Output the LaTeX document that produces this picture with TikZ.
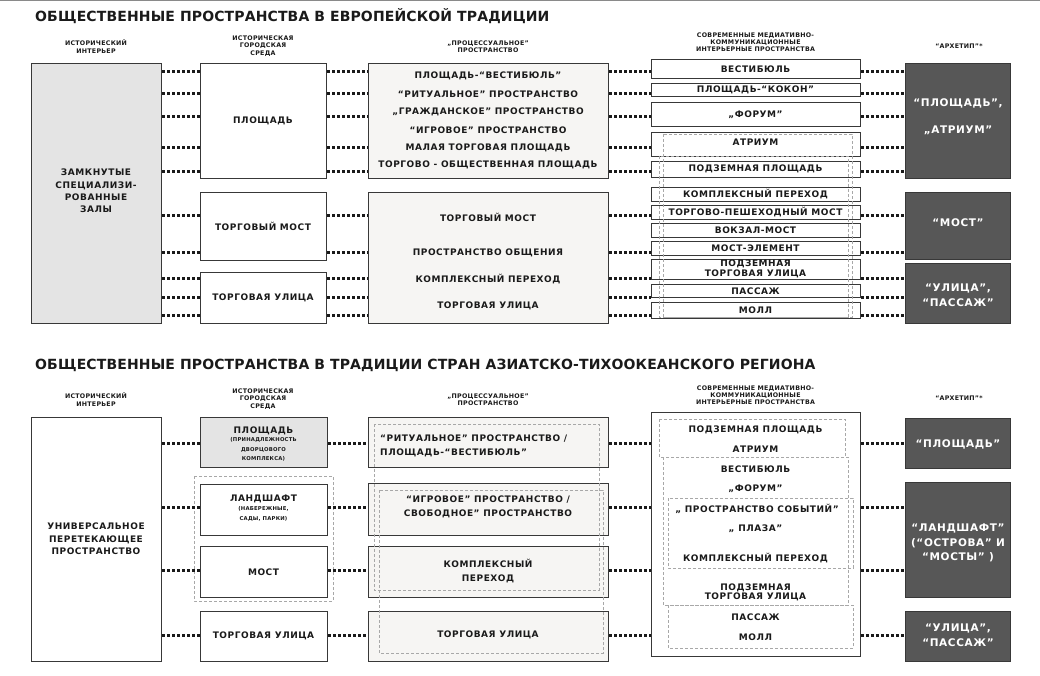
\documentclass[tikz,border=0pt]{standalone}
\usepackage{fontspec}
\setmainfont{DejaVu Sans}
\newfontfamily\dvbox[LetterSpace=6]{DejaVu Sans}
\newfontfamily\dvttl[LetterSpace=1]{DejaVu Sans}
\newfontfamily\dvhdr[LetterSpace=4]{DejaVu Sans}
\definecolor{gfill}{HTML}{E4E4E4}
\definecolor{pfill}{HTML}{F6F5F3}
\definecolor{dfill}{HTML}{575757}
\definecolor{dline}{HTML}{A8A8A8}
\definecolor{bline}{HTML}{383838}
\definecolor{topgray}{HTML}{8A8A8A}
\definecolor{ink}{HTML}{1A1A1A}
\tikzset{
  frame/.style={draw=bline, line width=1.3pt, rectangle, inner sep=0pt, anchor=north west, fill=white},
  darkbox/.style={frame, fill=dfill},
  dotline/.style={line width=3pt, dash pattern=on 3pt off 2pt, ink},
  dbox/.style={draw=dline, line width=0.9pt, dash pattern=on 3pt off 2pt},
  lbl/.style={font=\dvbox\bfseries\fontsize{9}{12.3}\selectfont, text=ink, align=center, inner sep=0pt},
  lblw/.style={lbl, font=\dvbox\bfseries\fontsize{9}{14}\selectfont},
  lblt/.style={lbl, font=\dvbox\bfseries\fontsize{9}{9.5}\selectfont},
  sub/.style={lbl, font=\dvhdr\bfseries\fontsize{5.3}{9.3}\selectfont},
  hdr/.style={lbl, font=\dvhdr\bfseries\fontsize{6.3}{7.2}\selectfont},
  arch/.style={lbl, text=white, font=\dvbox\bfseries\fontsize{10.5}{14.5}\selectfont},
  ttl/.style={lbl, anchor=west, font=\dvttl\bfseries\fontsize{14}{16}\selectfont},
}
\newcommand\mkbox[6][]{\node[frame,#1,minimum width={#5pt-#3pt},minimum height={#6pt-#4pt}] (#2) at (#3,#4) {};}
\newcommand\mytext[4][]{\node[lbl,#1] (#2) at (#3) {#4};}
\begin{document}
\begin{tikzpicture}[x=1pt,y=-1pt]
\useasboundingbox (0,0) rectangle (1040,676);
\fill[topgray] (0,0) rectangle (1040,1.5);

% ---------------- titles ----------------
\node[ttl] (T1) at (35,16) {ОБЩЕСТВЕННЫЕ ПРОСТРАНСТВА В ЕВРОПЕЙСКОЙ ТРАДИЦИИ};
\node[ttl] (T2) at (35,365) {ОБЩЕСТВЕННЫЕ ПРОСТРАНСТВА В ТРАДИЦИИ СТРАН АЗИАТСКО-ТИХООКЕАНСКОГО РЕГИОНА};

% ---------------- headers ----------------
\mytext[hdr]{h1}{96,46.5}{ИСТОРИЧЕСКИЙ\\ИНТЕРЬЕР}
\mytext[hdr]{h2}{263,46}{ИСТОРИЧЕСКАЯ\\ГОРОДСКАЯ\\СРЕДА}
\mytext[hdr]{h3}{488,46.5}{„ПРОЦЕССУАЛЬНОЕ”\\ПРОСТРАНСТВО}
\mytext[hdr]{h4}{755.5,42}{СОВРЕМЕННЫЕ МЕДИАТИВНО-\\КОММУНИКАЦИОННЫЕ\\ИНТЕРЬЕРНЫЕ ПРОСТРАНСТВА}
\mytext[hdr]{h5}{959,46}{“АРХЕТИП”*}

\mytext[hdr]{k1}{96,399.5}{ИСТОРИЧЕСКИЙ\\ИНТЕРЬЕР}
\mytext[hdr]{k2}{263,399}{ИСТОРИЧЕСКАЯ\\ГОРОДСКАЯ\\СРЕДА}
\mytext[hdr]{k3}{488,399.5}{„ПРОЦЕССУАЛЬНОЕ”\\ПРОСТРАНСТВО}
\mytext[hdr]{k4}{755.5,395}{СОВРЕМЕННЫЕ МЕДИАТИВНО-\\КОММУНИКАЦИОННЫЕ\\ИНТЕРЬЕРНЫЕ ПРОСТРАНСТВА}
\mytext[hdr]{k5}{959,398}{“АРХЕТИП”*}

% ================= EUROPE =================
\mkbox[fill=gfill]{EL}{31}{63}{161}{323}
\mkbox{EP}{200}{63}{326}{178}
\mkbox{EM}{200}{192}{326}{260}
\mkbox{EU}{200}{272}{326}{323}
\mkbox[fill=pfill]{EQ1}{368}{63}{608}{178}
\mkbox[fill=pfill]{EQ2}{368}{192}{608}{323}
\mkbox{V1}{651}{59}{860}{78}
\mkbox{V2}{651}{83}{860}{96}
\mkbox{V3}{651}{102}{860}{126}
\mkbox{V4}{651}{132}{860}{156}
\mkbox{V5}{651}{161}{860}{177}
\mkbox{V6}{651}{187}{860}{201}
\mkbox{V7}{651}{205}{860}{219}
\mkbox{V8}{651}{223}{860}{237}
\mkbox{V9}{651}{241}{860}{255}
\mkbox{V10}{651}{259}{860}{279}
\mkbox{V11}{651}{284}{860}{297}
\mkbox{V12}{651}{302}{860}{318}
\mkbox[darkbox]{EA1}{905}{63}{1010}{178}
\mkbox[darkbox]{EA2}{905}{192}{1010}{259}
\mkbox[darkbox]{EA3}{905}{263}{1010}{323}

\draw[dbox] (663,134) rectangle (852,317);
\draw[dbox] (659,156) rectangle (848,317);

\foreach \y/\a/\b/\c/\d/\e in {72/EL/EP/EQ1/V1/EA1, 94/EL/EP/EQ1/V2/EA1, 117/EL/EP/EQ1/V3/EA1,
  148/EL/EP/EQ1/V4/EA1, 172/EL/EP/EQ1/V5/EA1, 216/EL/EM/EQ2/V7/EA2, 252/EL/EM/EQ2/V9/EA2,
  278/EL/EU/EQ2/V10/EA3, 297/EL/EU/EQ2/V11/EA3, 315/EL/EU/EQ2/V12/EA3}{
  \draw[dotline] (\a.east |- 0,\y) -- (\b.west |- 0,\y);
  \draw[dotline] (\b.east |- 0,\y) -- (\c.west |- 0,\y);
  \draw[dotline] (\c.east |- 0,\y) -- (\d.west |- 0,\y);
  \draw[dotline] (\d.east |- 0,\y) -- (\e.west |- 0,\y);
}

\mytext{e1}{96,191}{ЗАМКНУТЫЕ\\СПЕЦИАЛИЗИ-\\РОВАННЫЕ\\ЗАЛЫ}
\mytext{e2}{263,121}{ПЛОЩАДЬ}
\mytext{e3}{263,226}{ТОРГОВЫЙ МОСТ}
\mytext{e4}{263,297.5}{ТОРГОВАЯ УЛИЦА}
\mytext{q1}{488,76}{ПЛОЩАДЬ-“ВЕСТИБЮЛЬ”}
\mytext{q2}{488,94}{“РИТУАЛЬНОЕ” ПРОСТРАНСТВО}
\mytext{q3}{488,112}{„ГРАЖДАНСКОЕ” ПРОСТРАНСТВО}
\mytext{q4}{488,130}{“ИГРОВОЕ” ПРОСТРАНСТВО}
\mytext{q5}{488,148}{МАЛАЯ ТОРГОВАЯ ПЛОЩАДЬ}
\mytext{q6}{488,165}{ТОРГОВО - ОБЩЕСТВЕННАЯ ПЛОЩАДЬ}
\mytext{q7}{488,217}{ТОРГОВЫЙ МОСТ}
\mytext{q8}{488,253}{ПРОСТРАНСТВО ОБЩЕНИЯ}
\mytext{q9}{488,279}{КОМПЛЕКСНЫЙ ПЕРЕХОД}
\mytext{q10}{488,306}{ТОРГОВАЯ УЛИЦА}
\mytext{v1}{755.5,69}{ВЕСТИБЮЛЬ}
\mytext{v2}{755.5,89.5}{ПЛОЩАДЬ-“КОКОН”}
\mytext{v3}{755.5,115}{„ФОРУМ”}
\mytext{v4}{755.5,142}{АТРИУМ}
\mytext{v5}{755.5,168.5}{ПОДЗЕМНАЯ ПЛОЩАДЬ}
\mytext{v6}{755.5,194}{КОМПЛЕКСНЫЙ ПЕРЕХОД}
\mytext{v7}{755.5,212}{ТОРГОВО-ПЕШЕХОДНЫЙ МОСТ}
\mytext{v8}{755.5,230}{ВОКЗАЛ-МОСТ}
\mytext{v9}{755.5,248}{МОСТ-ЭЛЕМЕНТ}
\mytext[lblt]{v10}{755.5,269}{ПОДЗЕМНАЯ\\ТОРГОВАЯ УЛИЦА}
\mytext{v11}{755.5,291}{ПАССАЖ}
\mytext{v12}{755.5,310}{МОЛЛ}
\mytext[arch]{a1}{958,103}{“ПЛОЩАДЬ”,}
\mytext[arch]{a2}{958,130}{„АТРИУМ”}
\mytext[arch]{a3}{958,223}{“МОСТ”}
\mytext[arch]{a4}{958,295}{“УЛИЦА”,\\“ПАССАЖ”}

% ================= ASIA =================
\mkbox{AL}{31}{417}{161}{661}
\mkbox[fill=gfill]{AP}{200}{417}{327}{467}
\mkbox{AS}{200}{484}{327}{535}
\mkbox{AMo}{200}{546}{327}{597}
\mkbox{AU}{200}{611}{327}{661}
\mkbox[fill=pfill]{AQ1}{368}{417}{608}{467}
\mkbox[fill=pfill]{AQ2}{368}{483}{608}{535}
\mkbox[fill=pfill]{AQ3}{368}{546}{608}{597}
\mkbox[fill=pfill]{AQ4}{368}{611}{608}{661}
\mkbox{AM}{651}{412}{860}{656}
\mkbox[darkbox]{AA1}{905}{418}{1010}{468}
\mkbox[darkbox]{AA2}{905}{482}{1010}{597}
\mkbox[darkbox]{AA3}{905}{611}{1010}{661}

\draw[dbox] (194,476) rectangle (333,601);
\draw[dbox] (374,424) rectangle (599,590);
\draw[dbox] (379,490) rectangle (603,653);
\draw[dbox] (659,419) rectangle (845,457);
\draw[dbox] (663,457) rectangle (848,605);
\draw[dbox] (668,498) rectangle (853,568);
\draw[dbox] (668,605) rectangle (853,648);

\foreach \y/\a/\b/\c/\d/\e in {443/AL/AP/AQ1/AM/AA1, 507/AL/AS/AQ2/AM/AA2,
  570/AL/AMo/AQ3/AM/AA2, 635/AL/AU/AQ4/AM/AA3}{
  \draw[dotline] (\a.east |- 0,\y) -- (\b.west |- 0,\y);
  \draw[dotline] (\b.east |- 0,\y) -- (\c.west |- 0,\y);
  \draw[dotline] (\c.east |- 0,\y) -- (\d.west |- 0,\y);
  \draw[dotline] (\d.east |- 0,\y) -- (\e.west |- 0,\y);
}

\mytext{f1}{96,539}{УНИВЕРСАЛЬНОЕ\\ПЕРЕТЕКАЮЩЕЕ\\ПРОСТРАНСТВО}
\mytext{f2}{263.5,430.5}{ПЛОЩАДЬ}
\mytext[sub]{f2s}{263.5,449.5}{(ПРИНАДЛЕЖНОСТЬ\\ДВОРЦОВОГО\\КОМПЛЕКСА)}
\mytext{f3}{263.5,499}{ЛАНДШАФТ}
\mytext[sub]{f3s}{263.5,514}{(НАБЕРЕЖНЫЕ,\\САДЫ, ПАРКИ)}
\mytext{f4}{263.5,572}{МОСТ}
\mytext{f5}{263.5,636}{ТОРГОВАЯ УЛИЦА}
\mytext[lblw, align=left, anchor=west]{r1}{380,445.5}{“РИТУАЛЬНОЕ” ПРОСТРАНСТВО /\\ПЛОЩАДЬ-“ВЕСТИБЮЛЬ”}
\mytext[lblw]{r2}{488,507}{“ИГРОВОЕ” ПРОСТРАНСТВО /\\СВОБОДНОЕ” ПРОСТРАНСТВО}
\mytext[lblw]{r3}{488,571.5}{КОМПЛЕКСНЫЙ\\ПЕРЕХОД}
\mytext{r4}{488,635}{ТОРГОВАЯ УЛИЦА}
\mytext{m1}{755.5,430}{ПОДЗЕМНАЯ ПЛОЩАДЬ}
\mytext{m2}{755.5,449}{АТРИУМ}
\mytext{m3}{755.5,469}{ВЕСТИБЮЛЬ}
\mytext{m4}{755.5,489}{„ФОРУМ”}
\mytext{m5}{757,509}{„ ПРОСТРАНСТВО СОБЫТИЙ”}
\mytext{m6}{755.5,529}{„ ПЛАЗА”}
\mytext{m7}{755.5,558}{КОМПЛЕКСНЫЙ ПЕРЕХОД}
\mytext[lblt]{m8}{755.5,592.5}{ПОДЗЕМНАЯ\\ТОРГОВАЯ УЛИЦА}
\mytext{m9}{755.5,617}{ПАССАЖ}
\mytext{m10}{755.5,637}{МОЛЛ}
\mytext[arch]{b1}{958,444}{“ПЛОЩАДЬ”}
\mytext[arch]{b2}{958,543}{“ЛАНДШАФТ”\\(“ОСТРОВА” И\\“МОСТЫ” )}
\mytext[arch]{b3}{958,635}{“УЛИЦА”,\\“ПАССАЖ”}
\end{tikzpicture}
\end{document}
